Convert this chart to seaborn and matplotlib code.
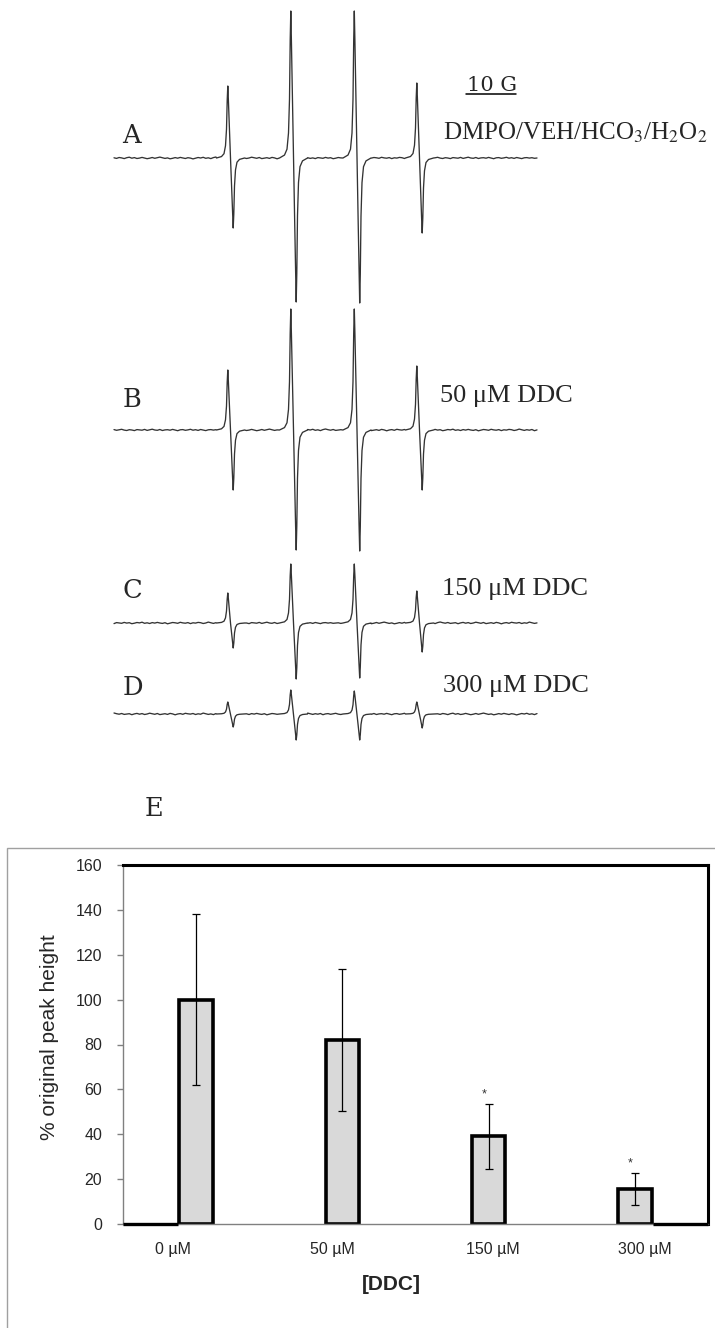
import numpy as np
import pandas as pd
import matplotlib
matplotlib.use("Agg")
import matplotlib.pyplot as plt
from matplotlib.patches import Rectangle
import seaborn as sns

# ---------------- data: EPR spectra (panels A-D) ----------------
trace_labels = ["A", "B", "C", "D"]
trace_conditions = ["DMPO/VEH/HCO$_3$/H$_2$O$_2$", "50 μM DDC", "150 μM DDC", "300 μM DDC"]
field_start_G = 0.0
field_end_G = 84.6
peak_field_G = [23.3, 35.9, 48.6, 61.1]
peak_max = {"A": [72, 147, 147, 75], "B": [60, 121, 121, 64],
            "C": [30, 59, 59, 32], "D": [12, 24, 23, 12]}
peak_min = {"A": [70, 144, 145, 75], "B": [60, 120, 121, 60],
            "C": [25, 56, 55, 29], "D": [13, 26, 26, 14]}
# shape of one derivative line (offset in G, fraction of extreme)
line_profile_dG = [-2.8, -1.8, -1.3, -1.0, -0.8, -0.66, -0.54, -0.42, -0.24, 0.0,
                   0.24, 0.42, 0.54, 0.66, 0.8, 1.0, 1.3, 1.8, 2.8]
line_profile_frac = [0.0, 0.02, 0.06, 0.17, 0.4, 0.8, 1.0, 0.8, 0.45, 0.0,
                     -0.45, -0.8, -1.0, -0.8, -0.4, -0.17, -0.06, -0.02, 0.0]
baseline_noise = [0.2, -0.4, 0.5, 0.1, -0.6, 0.3, 0.8, -0.2, 0.4, -0.5, -0.1, 0.6, 0.0, -0.7,
                  -0.2, 0.5, -0.3, 0.3, 0.9, 0.2, -0.4, 0.1, -0.8, -0.3, 0.4, -0.2, 0.6, 0.1,
                  -0.5, 0.3, -0.1, -0.9, -0.2, 0.5, 0.0, 0.7, -0.3, 0.2, -0.6, 0.4, 1.0, 0.3,
                  -0.2, 0.5, -0.4, -0.1, 0.3, -0.7, 0.1, 0.6, -0.2, 0.4, -0.5, 0.0, 0.8, 0.2,
                  -0.3, 0.5, -0.6, -0.2, 0.3, -0.4, 0.6, 0.1, -0.8, 0.0, 0.4, -0.3, 0.7, 0.2,
                  -0.1, 0.5, -0.5, 0.2, -0.2, 0.9, 0.3, -0.4, 0.1, -0.6, 0.4, 0.0, -0.3, 0.6,
                  -0.1, 0.3, -0.7, -0.2, 0.5, 0.1, 0.8, -0.3, 0.2, -0.5, 0.4, -0.1, 0.6, 0.0,
                  -0.4, 0.3, -0.8, -0.1, 0.5, 0.2, -0.3, 0.7, 0.1, -0.2, 0.4, -0.6, 0.2, -0.1,
                  0.6, 0.3, -0.5, 0.0, 0.9, 0.2, -0.4, 0.3, -0.2, 0.5, -0.7, 0.1, 0.4, -0.3,
                  0.2, 0.7, -0.1, -0.5, 0.3, 0.0, -0.6, 0.4, 0.1, -0.2, 0.6, -0.4, 0.2, 0.8,
                  0.0, -0.3, 0.5, -0.5, 0.1, 0.3, -0.2, 0.6, -0.1, -0.7, 0.2, 0.4, -0.3, 0.1,
                  0.7, -0.2, 0.3, -0.4, 0.5, 0.0, -0.6, 0.2, 0.4, -0.1, 0.3, -0.3, 0.0]
scale_bar_G = 10

# ---------------- data: bar chart (panel E) ----------------
conc_labels = ["0 µM", "50 µM", "150 µM", "300 µM"]
peak_height_pct = [100, 82, 39, 15.6]
peak_height_err = [38, 31.5, 14.7, 7.3]
significant = [False, False, True, True]
y_ticks = [0, 20, 40, 60, 80, 100, 120, 140, 160]

# ---------------- layout ----------------
W, H = 715, 1328
sns.set_theme(style="white")
plt.rcParams["font.family"] = ["Liberation Sans", "DejaVu Sans"]
plt.rcParams["mathtext.fontset"] = "stix"

fig = plt.figure(figsize=(W / 100, H / 100), dpi=100)
fig.patch.set_facecolor("white")


def fx(px):
    return px / W


def fy(py):
    return 1 - py / H


# spectra axes: x in gauss (5 px per G, trace starts at px 114), y in px (negative downward)
ax1 = fig.add_axes([0, 0, 1, 1])
ax1.set_xlim((0 - 114) / 5, (W - 114) / 5)
ax1.set_ylim(-H, 0)
ax1.axis("off")

trace_baseline_px = [158, 430, 623, 714]
noise_shift = [0, 43, 88, 127]
halfw = max(abs(d) for d in line_profile_dG)
noise_x = np.linspace(field_start_G, field_end_G, len(baseline_noise))
for lab, base, sh in zip(trace_labels, trace_baseline_px, noise_shift):
    nz = np.roll(np.array(baseline_noise), sh)
    xs, ys = [], []
    for x, y in zip(noise_x, nz):
        if min(abs(x - c) for c in peak_field_G) > halfw:
            xs.append(x)
            ys.append(y)
    for c, mx, mn in zip(peak_field_G, peak_max[lab], peak_min[lab]):
        for d, f in zip(line_profile_dG, line_profile_frac):
            xs.append(c + d)
            ys.append(f * (mx if f > 0 else mn))
    df = pd.DataFrame({"field": xs, "signal": ys}).sort_values("field")
    df["y"] = df["signal"] - base
    sns.lineplot(data=df, x="field", y="y", ax=ax1, sort=False, estimator=None,
                 color="#333333", linewidth=0.95)

# scale bar "10 G"
sb_x0 = (466 - 114) / 5
ax1.plot([sb_x0, sb_x0 + scale_bar_G], [-93.5, -93.5], color="black", lw=1.1)
fig.text(fx(492), fy(91), f"{scale_bar_G} G", family="DejaVu Serif", fontsize=15,
         ha="center", va="baseline")

letter_pos = [(122, 143), (123, 407), (123, 598), (123, 695)]
cond_pos = [(443, 140), (440, 402), (442, 595), (443, 692)]
cond_size = [18, 19, 19, 19]
for lab, cond, (lx, ly), (cx, cy), fs in zip(trace_labels, trace_conditions, letter_pos,
                                            cond_pos, cond_size):
    fig.text(fx(lx), fy(ly), lab, family="DejaVu Serif", fontsize=18.5, ha="left", va="baseline")
    fig.text(fx(cx), fy(cy), cond, family="Liberation Serif", fontsize=fs, ha="left",
             va="baseline")

fig.text(fx(145), fy(816), "E", family="DejaVu Serif", fontsize=18.5, ha="left", va="baseline")

# outer frame of chart E
fig.add_artist(Rectangle((fx(7), fy(1340)), fx(720 - 7), (1340 - 848) / H,
                         transform=fig.transFigure, fill=False, edgecolor="#a0a0a0",
                         lw=1.0, clip_on=False))

# ---------------- bar chart ----------------
ax_l, ax_r, ax_t, ax_b = 123, 708, 865, 1224
ax2 = fig.add_axes([fx(ax_l), fy(ax_b), fx(ax_r - ax_l), (ax_b - ax_t) / H])
ax2.set_facecolor("white")
sns.barplot(x=conc_labels, y=peak_height_pct, ax=ax2, width=0.23, color="#d9d9d9",
            edgecolor="black", linewidth=2.6, errorbar=None, saturation=1)
pos = np.arange(len(conc_labels))
ax2.errorbar(pos, peak_height_pct, yerr=peak_height_err, fmt="none", ecolor="black",
             elinewidth=0.9, capsize=3, capthick=0.9, zorder=5)
for p, v, e, s in zip(pos, peak_height_pct, peak_height_err, significant):
    if s:
        ax2.text(p - 0.03, v + e + 1.5, "*", ha="center", va="bottom", fontsize=9, color="#333333")

ax2.set_xlim(-0.5, 3.5)
ax2.set_ylim(0, 160)
ax2.set_yticks(y_ticks)
ax2.set_yticklabels([str(t) for t in y_ticks], fontsize=11.5)
label_shift = [-0.16, -0.07, 0.03, 0.07]
ax2.set_xticks(pos + np.array(label_shift))
ax2.set_xticklabels(conc_labels, fontsize=11.5)
ax2.tick_params(axis="x", length=0, pad=13)
ax2.tick_params(axis="y", length=4, width=1, color="#808080", pad=11, direction="out", left=True)
for side in ["top", "right"]:
    ax2.spines[side].set_color("black")
    ax2.spines[side].set_linewidth(2.2)
for side in ["left", "bottom"]:
    ax2.spines[side].set_color("#808080")
    ax2.spines[side].set_linewidth(1.0)
# thick plot-area border at the two ends of the category axis
for a, b in [(0.0, (178 - ax_l) / (ax_r - ax_l)), ((653 - ax_l) / (ax_r - ax_l), 1.0)]:
    ax2.plot([a, b], [0, 0], transform=ax2.transAxes, color="black", lw=2.4,
             clip_on=False, solid_capstyle="butt", zorder=6)

ax2.set_ylabel("% original peak height", fontsize=15)
ax2.yaxis.set_label_coords((50 - ax_l) / (ax_r - ax_l), 0.52)
ax2.set_xlabel("[DDC]", fontsize=15, fontweight="bold")
ax2.xaxis.set_label_coords((391 - ax_l) / (ax_r - ax_l), (ax_b - 1284) / (ax_b - ax_t))
ax2.xaxis.label.set_va("center")
ax2.yaxis.label.set_va("center")

fig.savefig("out.png", dpi=100, facecolor="white")
